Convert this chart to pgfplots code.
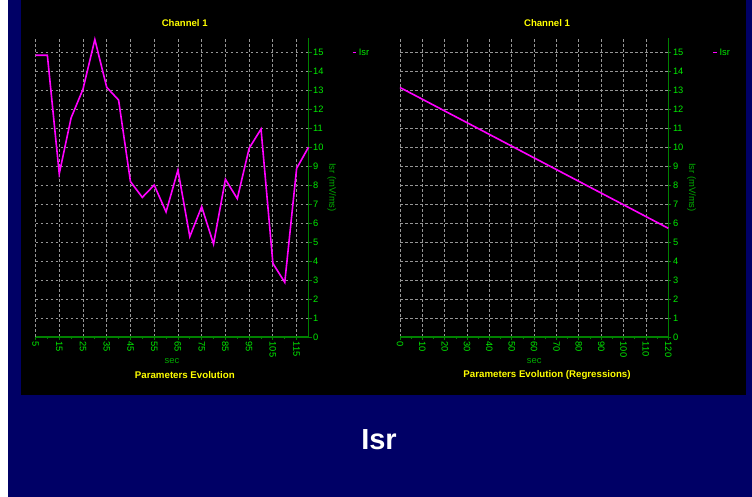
\documentclass[border=0pt]{standalone}
\usepackage{pgfplots}
\pgfplotsset{compat=1.18}
\usepackage{fontspec}
\setmainfont{Liberation Sans}

\definecolor{navy}{RGB}{0,0,102}
\definecolor{axgreen}{RGB}{0,128,0}
\definecolor{lbgreen}{RGB}{0,235,0}
\definecolor{dkgreen}{RGB}{0,170,0}
\definecolor{titleyel}{RGB}{255,255,0}
\definecolor{gridgray}{RGB}{150,150,150}
\definecolor{lsr}{RGB}{255,0,255}

\pgfplotsset{
  chan/.style={
    scale only axis, height=299pt,
    axis x line=bottom, axis y line=right,
    axis line style={-, axgreen, line width=1.6pt},
    ymin=0, ymax=15.76, ytick={0,1,...,15},
    grid=major,
    major grid style={gridgray, dash pattern=on 2.5pt off 2.5pt, line width=0.8pt},
    tick style={axgreen, line width=0.8pt},
    major tick length=3pt, minor tick length=2pt, tick align=outside,
    minor x tick num=1,
    ticklabel style={font=\fontsize{9.3}{10}\selectfont, text=lbgreen},
    /pgf/number format/assume math mode=true,
    xticklabel style={rotate=-90, anchor=west, inner sep=1.5pt},
    yticklabel style={anchor=west, inner sep=1.5pt},
    title style={font=\bfseries\fontsize{9.6}{11}\selectfont, text=titleyel, anchor=center},
    xlabel style={at={(axis description cs:0.5,-0.08)}, anchor=center,
      font=\fontsize{9.4}{11}\selectfont, text=dkgreen},
    ylabel style={anchor=center, rotate=180,
      font=\fontsize{9.4}{11}\selectfont, text=dkgreen},
    legend style={anchor=west, draw=none, fill=none, inner sep=0pt,
      font=\fontsize{9.4}{11}\selectfont, text=lbgreen,
      /tikz/every even column/.append style={column sep=1pt}},
    legend image code/.code={\draw[lsr, line width=1.5pt] (0pt,0pt) -- (3.5pt,0pt);},
    clip=false,
  }
}

\begin{document}
\begin{tikzpicture}
\useasboundingbox (0,0) rectangle (752pt,497pt);
\fill[white] (0,0) rectangle (752pt,497pt);
\fill[navy] (8pt,0) rectangle (752pt,497pt);
\fill[black] (21pt,102pt) rectangle (746pt,497pt);

% left panel: raw values
\begin{axis}[chan,
    at={(35.5pt,160pt)}, anchor=south west, width=273pt,
    xmin=5, xmax=120, xtick={5,15,...,115},
    title={Channel 1}, title style={at={(axis description cs:0.5465,1.029)}},
    xlabel={sec},
    ylabel={Isr (mV/ms)}, ylabel style={at={(axis description cs:1.085,0.5)}},
    legend style={at={(axis description cs:1.158,0.951)}},
  ]
  \addplot[lsr, line width=1.6pt] coordinates {
    (5,14.85) (10,14.85) (15,8.6) (20,11.55) (25,13.06) (30,15.68)
    (35,13.16) (40,12.49) (45,8.19) (50,7.36) (55,8.01) (60,6.59)
    (65,8.8) (70,5.29) (75,6.87) (80,4.9) (85,8.31) (90,7.29)
    (95,9.95) (100,10.96) (105,3.88) (110,2.88) (115,8.89) (120,10.0)
  };
  \addlegendentry{Isr}
  \node[font=\bfseries\fontsize{9.7}{11}\selectfont, text=titleyel]
    at (axis description cs:0.547,-0.127) {Parameters Evolution};
\end{axis}

% right panel: regression
\begin{axis}[chan,
    at={(400pt,160pt)}, anchor=south west, width=268.3pt,
    xmin=0, xmax=120, xtick={0,10,...,120},
    title={Channel 1}, title style={at={(axis description cs:0.548,1.029)}},
    xlabel={sec},
    ylabel={Isr (mV/ms)}, ylabel style={at={(axis description cs:1.087,0.5)}},
    legend style={at={(axis description cs:1.164,0.951)}},
  ]
  \addplot[lsr, line width=1.6pt] coordinates {(0,13.15) (120,5.73)};
  \addlegendentry{Isr}
  \node[font=\bfseries\fontsize{9.7}{11}\selectfont, text=titleyel]
    at (axis description cs:0.548,-0.127) {Parameters Evolution (Regressions)};
\end{axis}

\node[font=\bfseries\fontsize{29}{32}\selectfont, text=white] at (379pt,57pt) {Isr};
\end{tikzpicture}
\end{document}
